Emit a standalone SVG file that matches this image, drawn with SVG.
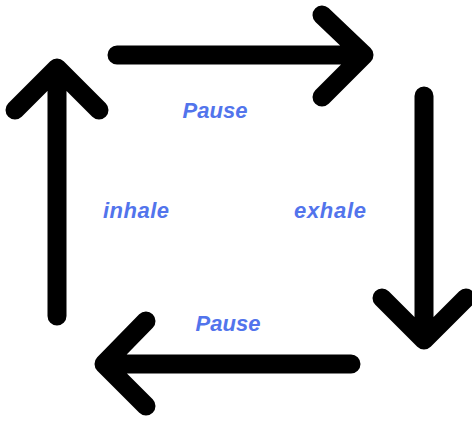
<svg xmlns="http://www.w3.org/2000/svg" width="472" height="421" viewBox="0 0 472 421">
<style>
.arr{fill:none;stroke:#000;stroke-width:19;stroke-linecap:round;stroke-linejoin:round}
.lbl{font-family:"Liberation Sans",Arial,sans-serif;font-weight:bold;font-style:italic;font-size:22px;fill:#5274EC;text-anchor:middle}
</style>
<rect width="472" height="421" fill="#fff"/>
<g id="connectors">
<g id="arrow-top"><path class="arr" d="M117 55 H364 M322 15 L364 55 L322 97"/></g>
<g id="arrow-right"><path class="arr" d="M424 96 V340 M382 298 L424 340 L466 298"/></g>
<g id="arrow-bottom"><path class="arr" d="M351 364 H104 M146 321 L104 364 L146 406"/></g>
<g id="arrow-left"><path class="arr" d="M57 316 V69 M15 110 L57 68 L99 110"/></g>
</g>
<g id="label-pause-top"><text class="lbl" x="215" y="118">Pause</text></g>
<g id="label-inhale"><text class="lbl" x="136" y="218" textLength="66">inhale</text></g>
<g id="label-exhale"><text class="lbl" x="330" y="218" textLength="72">exhale</text></g>
<g id="label-pause-bottom"><text class="lbl" x="228" y="331">Pause</text></g>
</svg>
